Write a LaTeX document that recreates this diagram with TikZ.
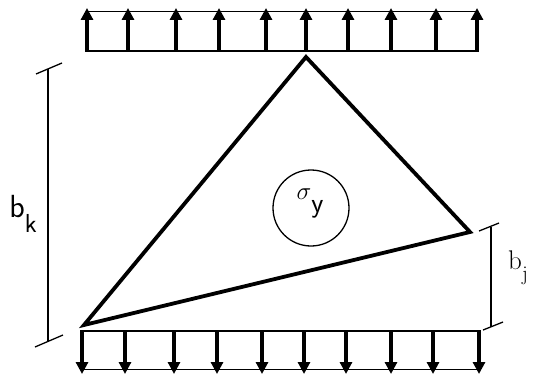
\documentclass[tikz,border=0pt]{standalone}
\usepackage{amsmath}
\usepackage{tikz}
\usetikzlibrary{arrows.meta,positioning,calc}

\begin{document}
\begin{tikzpicture}[
			x=1pt, y=-1pt,
			load/.style={line width=3.6pt, -{Triangle[length=12pt,width=12pt]}},
			band/.style={line width=2pt},
			tri/.style={line width=3.8pt, line join=miter},
			dim/.style={line width=1.3pt},
			lbl/.style={inner sep=0pt, font=\fontsize{32}{34}\selectfont}
			]
			\useasboundingbox (0,0) rectangle (534,377);
			% triangle corners
			\coordinate (A) at (306,57);
			\coordinate (L) at (84,325);
			\coordinate (R) at (470,232);
			\draw[tri] (L)--(A)--(R)--cycle;
			% upper load band
			\coordinate (TL) at (86,51);
			\coordinate (TR) at (477,51);
			\draw[band] (TL)--(TR);
			\draw[line width=0.8pt] (86,11)--(477,11);
			\foreach \x in {87,128,176,219,266,306,348,391,436,477}
				\draw[load] (\x,52)--(\x,8);
			% lower load band
			\coordinate (BL) at (82,331);
			\coordinate (BR) at (478,331);
			\draw[band] (BL)--(BR);
			\draw[line width=0.8pt] (82,369)--(478,369);
			\foreach \x in {82,125,174,217,262,304,346,391,433,479}
				\draw[load] (\x,330)--(\x,374);
			% stress circle
			\node[circle, draw, line width=1.3pt, minimum size=76pt, inner sep=0pt] (C) at (311,208) {};
			\node[lbl, font=\fontsize{28}{30}\selectfont] (sy) at (310,203) {$\sigma$\raisebox{-13pt}{\sffamily y}};
			% dimension b_k
			\coordinate (K1) at (48,69);
			\coordinate (K2) at (48,341);
			\draw[dim] (K1)--(K2);
			\draw[dim] ($(K1)+(-12,5)$)--($(K1)+(14,-6)$);
			\draw[dim] ($(K2)+(-13,6)$)--($(K2)+(15,-6)$);
			\node[lbl] (bk) at (23,214) {\sffamily b\raisebox{-15pt}{\fontsize{26}{26}\selectfont k}};
			% dimension b_j
			\coordinate (J1) at (491,227);
			\coordinate (J2) at (491,327);
			\draw[dim] (J1)--(J2);
			\draw[dim] ($(J1)+(-12,4)$)--($(J1)+(8,-4)$);
			\draw[dim] ($(J2)+(-8,3)$)--($(J2)+(12,-5)$);
			\node[lbl, font=\fontsize{27}{29}\selectfont] (bj) at (518,268) {b\raisebox{-11pt}{\fontsize{21}{21}\selectfont j}};
	\end{tikzpicture}
\end{document}
